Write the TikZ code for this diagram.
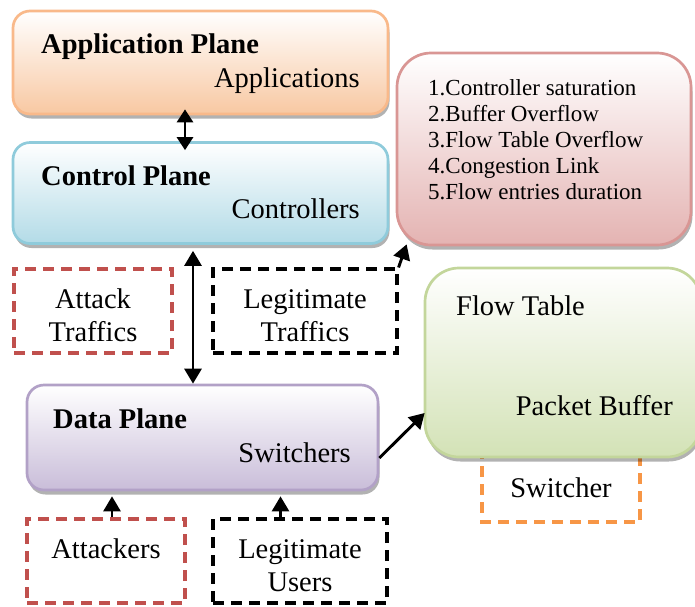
\documentclass[tikz,border=0pt]{standalone}
\usepackage{fontspec}
\setmainfont{Liberation Serif}
\usetikzlibrary{shadows,arrows.meta,calc}
\definecolor{appB}{HTML}{F9B98A}
\definecolor{appF}{HTML}{F8C8A2}
\definecolor{ctlB}{HTML}{8FCBDB}
\definecolor{ctlF}{HTML}{B3DBE7}
\definecolor{pnkB}{HTML}{D99694}
\definecolor{pnkF}{HTML}{E4B3B2}
\definecolor{grnB}{HTML}{C3D69B}
\definecolor{grnF}{HTML}{D3E2B6}
\definecolor{datB}{HTML}{B2A1C7}
\definecolor{datF}{HTML}{C9BDD9}
\definecolor{redD}{HTML}{C0504D}
\definecolor{orgD}{HTML}{F79646}
\tikzset{
  plane/.style={draw, line width=2.7pt, rounded corners=17pt, inner sep=0pt,
    drop shadow={shadow xshift=1.5pt, shadow yshift=-4.5pt, fill=black, opacity=0.3}},
  dashbox/.style={line width=3.1pt, dash pattern=on 11pt off 7pt, inner sep=0pt},
  txt/.style={inner sep=0pt, font=\fontsize{28.5}{33}\selectfont},
  btxt/.style={txt, font=\fontsize{28.5}{33}\selectfont\bfseries},
  ltxt/.style={inner sep=0pt, anchor=base west, font=\fontsize{23}{26.2}\selectfont},
  arr/.style={line width=2.9pt, -{Triangle[length=15pt,width=17pt]}},
  darr/.style={line width=2.9pt, {Triangle[length=15pt,width=17pt]}-{Triangle[length=15pt,width=17pt]}},
  sarr/.style={line width=2.9pt, {Triangle[length=13pt,width=16pt]}-{Triangle[length=13pt,width=16pt]}}
}
\begin{document}
\begin{tikzpicture}[x=1pt,y=-1pt]
\useasboundingbox (0,0) rectangle (695,606);
% dashed switcher box (behind green)
\draw[dashbox, orgD] (482,430) rectangle (640,522);
% planes
\node[plane, draw=appB, top color=white, bottom color=appF, minimum width=375pt, minimum height=103pt] (app) at (200.5,62.5) {};
\node[plane, draw=ctlB, top color=white, bottom color=ctlF, minimum width=375pt, minimum height=101pt] (ctrl) at (200.5,193) {};
\node[plane, draw=pnkB, top color=white, bottom color=pnkF, rounded corners=34pt, minimum width=294pt, minimum height=192pt] (pink) at (544,149) {};
\node[plane, draw=grnB, top color=white, bottom color=grnF, rounded corners=34pt, minimum width=276pt, minimum height=189pt] (green) at (563,362.5) {};
\node[plane, draw=datB, top color=white, bottom color=datF, minimum width=351pt, minimum height=105pt] (data) at (202.5,437.5) {};
% dashed boxes
\node[dashbox, draw=redD, minimum width=158pt, minimum height=84pt] (atr) at (93,311) {};
\node[dashbox, draw=black, minimum width=184pt, minimum height=84pt] (ltr) at (305,311) {};
\node[dashbox, draw=redD, minimum width=158pt, minimum height=84pt] (atk) at (106,561) {};
\node[dashbox, draw=black, minimum width=174pt, minimum height=84pt] (lus) at (300,561) {};
% texts
\node[btxt, anchor=base west] (t1) at (41,53) {Application Plane};
\node[txt, anchor=base east] (t2) at (360,87) {Applications};
\node[btxt, anchor=base west] (t3) at (41,185) {Control Plane};
\node[txt, anchor=base east] (t4) at (360,218) {Controllers};
\node[ltxt] (l1) at (428,95) {1.Controller saturation};
\node[ltxt] (l2) at (428,121.2) {2.Buffer Overflow};
\node[ltxt] (l3) at (428,147.4) {3.Flow Table Overflow};
\node[ltxt] (l4) at (428,173.6) {4.Congestion Link};
\node[ltxt] (l5) at (428,199.8) {5.Flow entries duration};
\node[txt, anchor=base] (t6) at (93,308) {Attack};
\node[txt, anchor=base] (t7) at (93,341) {Traffics};
\node[txt, anchor=base] (t8) at (305,308) {Legitimate};
\node[txt, anchor=base] (t9) at (305,341) {Traffics};
\node[txt, anchor=base west] (t10) at (456,315) {Flow Table};
\node[txt, anchor=base east] (t11) at (673,415) {Packet Buffer};
\node[txt, anchor=base] (t12) at (561,497) {Switcher};
\node[btxt, anchor=base west] (t13) at (53,428) {Data Plane};
\node[txt, anchor=base east] (t14) at (351,462) {Switchers};
\node[txt, anchor=base] (t15) at (106,558) {Attackers};
\node[txt, anchor=base] (t16) at (300,558) {Legitimate};
\node[txt, anchor=base] (t17) at (300,591) {Users};
% connectors
\draw[sarr] ([xshift=-15.5pt,yshift=6pt]app.south) -- ([xshift=-15.5pt,yshift=-9pt]ctrl.north);
\draw[darr] ([xshift=-7.5pt,yshift=-6pt]ctrl.south) -- ([xshift=-9.5pt]data.north);
\draw[arr] (ltr.north east) -- ([xshift=11pt,yshift=2pt]pink.south west);
\draw[arr] ([yshift=-20.5pt]data.east) -- ([xshift=1pt,yshift=-50.5pt]green.west);
\draw[arr] ([xshift=6pt]atk.north) -- ([xshift=-90.5pt,yshift=-5pt]data.south);
\draw[arr] ([xshift=-19.5pt]lus.north) -- ([xshift=78pt,yshift=-5pt]data.south);
\end{tikzpicture}
\end{document}
